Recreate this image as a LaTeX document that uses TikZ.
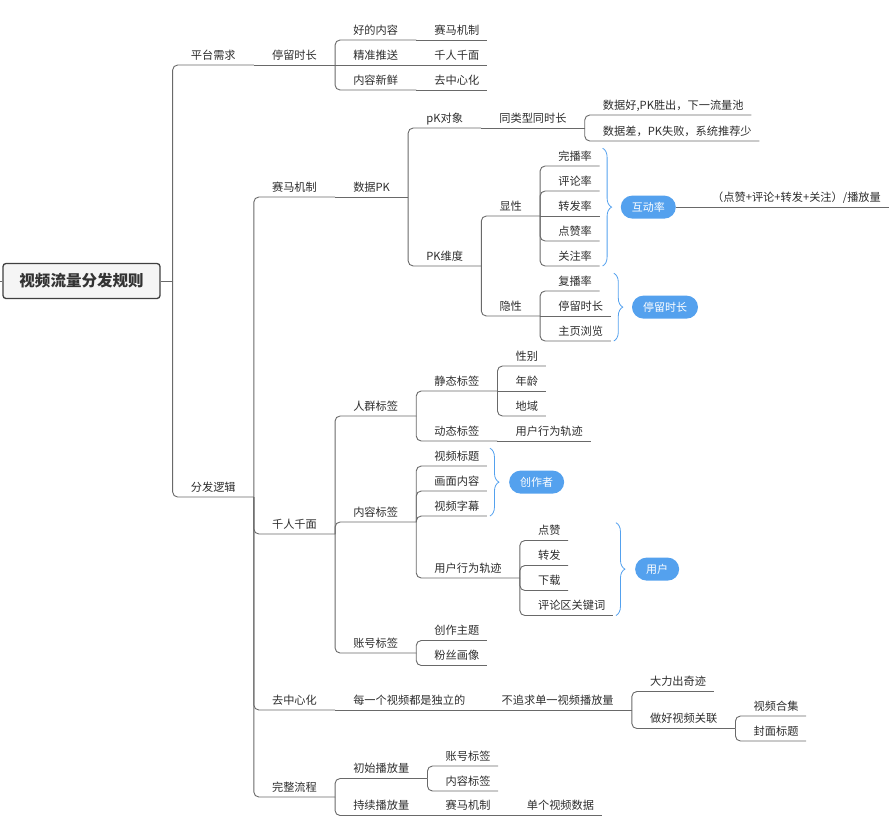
\documentclass[tikz,border=0pt]{standalone}
\usepackage{fontspec}
\setmainfont{Noto Sans CJK SC}
\usepackage{tikz}
\usetikzlibrary{calc}
\usetikzlibrary{decorations.pathreplacing}
\definecolor{mmGray}{RGB}{105, 105, 105}
\definecolor{mmText}{RGB}{45, 45, 45}
\definecolor{mmBlue}{RGB}{84, 161, 238}

\begin{document}
\begin{tikzpicture} [
    x=1pt, y=-1pt,
    topic/.style   = { anchor=south west, inner xsep=18pt, inner ysep=3.2pt,
                       text height=8.5pt, text depth=2.5pt, text=mmText,
                       font=\fontsize{11.2}{13}\selectfont},
    leaf/.style    = { topic, inner xsep=7.5pt, xshift=10.5pt},
    root/.style    = { rectangle, draw=black!75, line width=1.3pt, fill=black!4,
                       rounded corners=3pt, minimum width=157pt, minimum height=35pt,
                       text=black!80, font=\fontsize{15.5}{18}\selectfont\bfseries},
    summary/.style = { anchor=west, fill=mmBlue, text=white, rounded corners=11.5pt,
                       inner xsep=11pt, minimum height=23pt,
                       font=\fontsize{11}{13}\selectfont},
    line/.style    = { draw=mmGray, line width=0.9pt, rounded corners=5pt},
    brace/.style   = { draw=mmBlue, line width=0.8pt, decorate,
                       decoration={brace, amplitude=9pt}},
  ]
  \useasboundingbox (0,0) rectangle (896,828);

% Zentrum
  \node[root] (root) at (81.5,281) {视频流量分发规则};
  \coordinate (stub) at (0,281);
  \coordinate (rootbar) at ([xshift=12pt]root.east);

%%%%%%%%%%%%%%%%%%%%%%%%%%%%%%%%%%%%%%%%%%
% 平台需求
  \node[topic] (pingtai)  at ([shift={(0,-216)}]rootbar) {平台需求};
  \node[topic] (tingliu)  at (pingtai.south east) {停留时长};
  \node[topic] (haonr)    at ([shift={(0,-25)}]tingliu.south east) {好的内容};
  \node[leaf]  (saima0)   at (haonr.south east) {赛马机制};
  \node[topic] (jingzhun) at (tingliu.south east) {精准推送};
  \node[leaf]  (qianren0) at (jingzhun.south east) {千人千面};
  \node[topic] (xinxian)  at ([shift={(0,25)}]tingliu.south east) {内容新鲜};
  \node[leaf]  (quzhong0) at (xinxian.south east) {去中心化};

%%%%%%%%%%%%%%%%%%%%%%%%%%%%%%%%%%%%%%%%%%
% 分发逻辑 / 赛马机制
  \node[topic] (fenfa)    at ([shift={(0,216)}]rootbar) {分发逻辑};
  \node[topic] (saima)    at ([shift={(0,-300)}]fenfa.south east) {赛马机制};
  \node[topic] (shujupk)  at (saima.south east) {数据PK};
  \node[topic] (pkobj)    at ([shift={(0,-69)}]shujupk.south east) {pK对象};
  \node[topic] (tonglei)  at (pkobj.south east) {同类型同时长};
  \node[leaf]  (haopk)    at ([shift={(0,-13)}]tonglei.south east) {数据好,PK胜出，下一流量池};
  \node[leaf]  (chapk)    at ([shift={(0,13)}]tonglei.south east) {数据差，PK失败，系统推荐少};
  \node[topic] (pkdim)    at ([shift={(0,69)}]shujupk.south east) {PK维度};
  \node[topic] (xianxing) at ([shift={(0,-50)}]pkdim.south east) {显性};
  \node[leaf]  (wanbo)    at ([shift={(0,-50)}]xianxing.south east) {完播率};
  \node[leaf]  (pinglun)  at ([shift={(0,-25)}]xianxing.south east) {评论率};
  \node[leaf]  (zhuanfa)  at (xianxing.south east) {转发率};
  \node[leaf]  (dianzan)  at ([shift={(0,25)}]xianxing.south east) {点赞率};
  \node[leaf]  (guanzhu)  at ([shift={(0,50)}]xianxing.south east) {关注率};
  \node[topic] (yinxing)  at ([shift={(0,50)}]pkdim.south east) {隐性};
  \node[leaf]  (fubo)     at ([shift={(0,-25)}]yinxing.south east) {复播率};
  \node[leaf]  (tingliu2) at (yinxing.south east) {停留时长};
  \node[leaf]  (zhuye)    at ([shift={(0,25)}]yinxing.south east) {主页浏览};

  \node[summary] (hudong) at ($(wanbo.north east)!.5!(guanzhu.south east)+(21,0)$) {互动率};
  \node[leaf]  (gongshi)  at ([xshift=18pt]hudong.east) {（点赞+评论+转发+关注）/播放量};
  \node[summary] (tlsc)   at ($(fubo.north -| tingliu2.east)!.5!(tingliu2.east |- zhuye.south)+(21,0)$) {停留时长};

%%%%%%%%%%%%%%%%%%%%%%%%%%%%%%%%%%%%%%%%%%
% 千人千面
  \node[topic] (qianren)  at ([shift={(0,37)}]fenfa.south east) {千人千面};
  \node[topic] (renqun)   at ([shift={(0,-118)}]qianren.south east) {人群标签};
  \node[topic] (jingtai)  at ([shift={(0,-25)}]renqun.south east) {静态标签};
  \node[leaf]  (xingbie)  at ([shift={(0,-25)}]jingtai.south east) {性别};
  \node[leaf]  (nianling) at (jingtai.south east) {年龄};
  \node[leaf]  (diyu)     at ([shift={(0,25)}]jingtai.south east) {地域};
  \node[topic] (dongtai)  at ([shift={(0,25)}]renqun.south east) {动态标签};
  \node[leaf]  (guiji0)   at (dongtai.south east) {用户行为轨迹};
  \node[topic] (neirong)  at ([shift={(0,-12)}]qianren.south east) {内容标签};
  \node[leaf]  (biaoti)   at ([shift={(0,-56)}]neirong.south east) {视频标题};
  \node[leaf]  (huamian)  at ([shift={(0,-31)}]neirong.south east) {画面内容};
  \node[leaf]  (zimu)     at ([shift={(0,-6)}]neirong.south east) {视频字幕};
  \node[topic] (guiji)    at ([shift={(0,56)}]neirong.south east) {用户行为轨迹};
  \node[leaf]  (dz)       at ([shift={(0,-37.5)}]guiji.south east) {点赞};
  \node[leaf]  (zf)       at ([shift={(0,-12.5)}]guiji.south east) {转发};
  \node[leaf]  (xz)       at ([shift={(0,12.5)}]guiji.south east) {下载};
  \node[leaf]  (plq)      at ([shift={(0,37.5)}]guiji.south east) {评论区关键词};
  \node[topic] (zhanghao) at ([shift={(0,119)}]qianren.south east) {账号标签};
  \node[leaf]  (zhuti)    at ([shift={(0,-12.5)}]zhanghao.south east) {创作主题};
  \node[leaf]  (fensi)    at ([shift={(0,12.5)}]zhanghao.south east) {粉丝画像};

  \node[summary] (chuangzuo) at ($(biaoti.north east)!.5!(biaoti.east |- zimu.south)+(22,0)$) {创作者};
  \node[summary] (yonghu)    at ($(dz.north -| plq.east)!.5!(plq.south east)+(22,0)$) {用户};

%%%%%%%%%%%%%%%%%%%%%%%%%%%%%%%%%%%%%%%%%%
% 去中心化 / 完整流程
  \node[topic] (quzhong)  at ([shift={(0,213)}]fenfa.south east) {去中心化};
  \node[topic] (duli)     at (quzhong.south east) {每一个视频都是独立的};
  \node[topic] (buzhui)   at (duli.south east) {不追求单一视频播放量};
  \node[leaf]  (dali)     at ([shift={(0,-18.5)}]buzhui.south east) {大力出奇迹};
  \node[topic] (guanlian) at ([shift={(0,18.5)}]buzhui.south east) {做好视频关联};
  \node[leaf]  (heji)     at ([shift={(0,-12.5)}]guanlian.south east) {视频合集};
  \node[leaf]  (fengmian) at ([shift={(0,12.5)}]guanlian.south east) {封面标题};

  \node[topic] (wanzheng) at ([shift={(0,300)}]fenfa.south east) {完整流程};
  \node[topic] (chushi)   at ([shift={(0,-18.5)}]wanzheng.south east) {初始播放量};
  \node[leaf]  (zhanghao2) at ([shift={(0,-12.5)}]chushi.south east) {账号标签};
  \node[leaf]  (neirong2) at ([shift={(0,12.5)}]chushi.south east) {内容标签};
  \node[topic] (chixu)    at ([shift={(0,18.5)}]wanzheng.south east) {持续播放量};
  \node[topic] (saima2)   at (chixu.south east) {赛马机制};
  \node[leaf]  (danshi)   at (saima2.south east) {单个视频数据};

% Verbindungen (Unterstrich = waagerechter Teil)
  \begin{scope} [every path/.style={line}]
   \path (stub) -- (root.west);
   \path (root.east) -- (rootbar);
   \path (rootbar) |- (pingtai.south east);
   \path (rootbar) |- (fenfa.south east);
   \path (pingtai.south east) -- (tingliu.south east);
   \path (tingliu.south east) |- (haonr.south east);
   \path (tingliu.south east) -- (jingzhun.south east);
   \path (tingliu.south east) |- (xinxian.south east);
   \path (haonr.south east) -- (saima0.south east);
   \path (jingzhun.south east) -- (qianren0.south east);
   \path (xinxian.south east) -- (quzhong0.south east);

   \path (fenfa.south east) |- (saima.south east);
   \path (fenfa.south east) |- (qianren.south east);
   \path (fenfa.south east) |- (quzhong.south east);
   \path (fenfa.south east) |- (wanzheng.south east);
   \path (saima.south east) -- (shujupk.south east);
   \path (shujupk.south east) |- (pkobj.south east);
   \path (shujupk.south east) |- (pkdim.south east);
   \path (pkobj.south east) -- (tonglei.south east);
   \path (tonglei.south east) |- (haopk.south east);
   \path (tonglei.south east) |- (chapk.south east);
   \path (pkdim.south east) |- (xianxing.south east);
   \path (pkdim.south east) |- (yinxing.south east);
   \path (xianxing.south east) |- (wanbo.south east);
   \path (xianxing.south east) |- (pinglun.south east);
   \path (xianxing.south east) -- (zhuanfa.south east);
   \path (xianxing.south east) |- (dianzan.south east);
   \path (xianxing.south east) |- (guanzhu.south east);
   \path (yinxing.south east) |- (fubo.south east);
   \path (yinxing.south east) -- (tingliu2.south east);
   \path (yinxing.south east) |- (zhuye.south east);
   \path (hudong.east) -- (gongshi.south east);

   \path (qianren.south east) |- (renqun.south east);
   \path (qianren.south east) |- (neirong.south east);
   \path (qianren.south east) |- (zhanghao.south east);
   \path (renqun.south east) |- (jingtai.south east);
   \path (renqun.south east) |- (dongtai.south east);
   \path (jingtai.south east) |- (xingbie.south east);
   \path (jingtai.south east) -- (nianling.south east);
   \path (jingtai.south east) |- (diyu.south east);
   \path (dongtai.south east) -- (guiji0.south east);
   \path (neirong.south east) |- (biaoti.south east);
   \path (neirong.south east) |- (huamian.south east);
   \path (neirong.south east) |- (zimu.south east);
   \path (neirong.south east) |- (guiji.south east);
   \path (guiji.south east) |- (dz.south east);
   \path (guiji.south east) |- (zf.south east);
   \path (guiji.south east) |- (xz.south east);
   \path (guiji.south east) |- (plq.south east);
   \path (zhanghao.south east) |- (zhuti.south east);
   \path (zhanghao.south east) |- (fensi.south east);

   \path (quzhong.south east) -- (duli.south east);
   \path (duli.south east) -- (buzhui.south east);
   \path (buzhui.south east) |- (dali.south east);
   \path (buzhui.south east) |- (guanlian.south east);
   \path (guanlian.south east) |- (heji.south east);
   \path (guanlian.south east) |- (fengmian.south east);
   \path (wanzheng.south east) |- (chushi.south east);
   \path (wanzheng.south east) |- (chixu.south east);
   \path (chushi.south east) |- (zhanghao2.south east);
   \path (chushi.south east) |- (neirong2.south east);
   \path (chixu.south east) -- (saima2.south east);
   \path (saima2.south east) -- (danshi.south east);
  \end{scope}

% Klammern (Zusammenfassung)
  \draw[brace] ($(wanbo.north east)+(3,0)$) -- ($(guanzhu.south east)+(3,0)$);
  \draw[brace] ($(fubo.north -| tingliu2.east)+(3,0)$) -- ($(tingliu2.east |- zhuye.south)+(3,0)$);
  \draw[brace] ($(biaoti.north east)+(3,0)$) -- ($(biaoti.east |- zimu.south)+(3,0)$);
  \draw[brace] ($(dz.north -| plq.east)+(3,0)$) -- ($(plq.south east)+(3,0)$);
\end{tikzpicture}
\end{document}
